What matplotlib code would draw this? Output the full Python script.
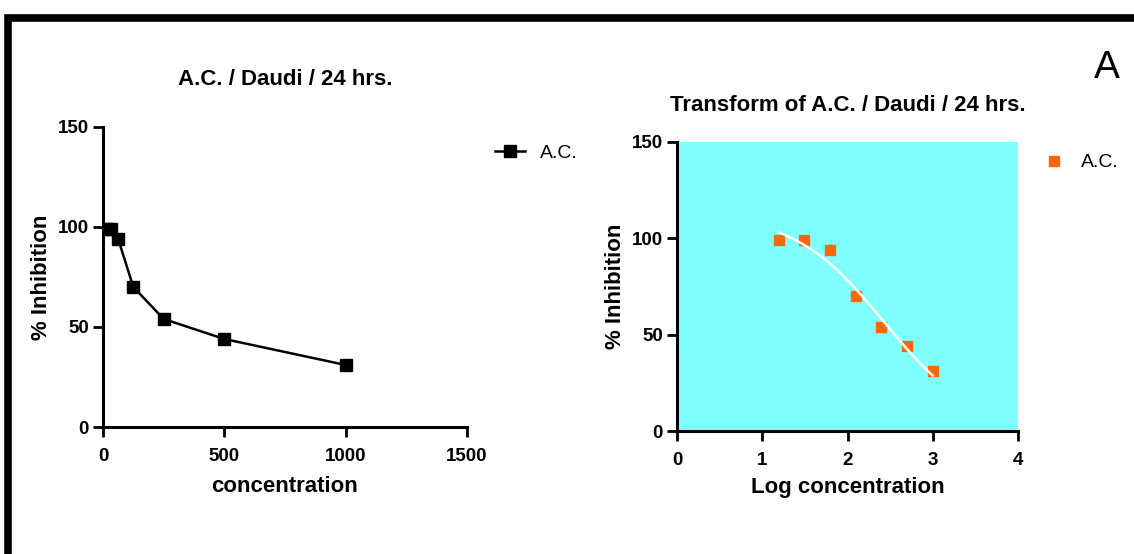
import numpy as np
import matplotlib.pyplot as plt
from matplotlib.patches import Rectangle

# data
conc = [15.625, 31.25, 62.5, 125, 250, 500, 1000]
inhibition = [99, 99, 94, 70, 54, 44, 31]
series_name = 'A.C.'
left_title = 'A.C. / Daudi / 24 hrs.'
right_title = 'Transform of A.C. / Daudi / 24 hrs.'
panel_letter = 'A'

plt.rcParams['font.family'] = ['Liberation Sans', 'DejaVu Sans']

logc = np.log10(conc)
y = np.array(inhibition, dtype=float)

# 4-parameter logistic fit (bottom fixed at 0) by grid search, for the white curve
best = None
for top in np.arange(100, 125, 0.5):
    for ec in np.arange(2.0, 3.0, 0.01):
        for h in np.arange(-2, -0.3, 0.02):
            f = top / (1 + 10 ** ((ec - logc) * h))
            err = np.sum((f - y) ** 2)
            if best is None or err < best[0]:
                best = (err, top, ec, h)
_, top, ec, h = best
xf = np.linspace(logc.min(), logc.max(), 200)
yf = top / (1 + 10 ** ((ec - xf) * h))

fig = plt.figure(figsize=(11.34, 5.54), dpi=100)

# outer frame (cut off at right and bottom like the reference)
fig.patches.append(Rectangle((8 / 1134, -0.1), 1.2, 1 - 18 / 554 + 0.1,
                             transform=fig.transFigure, fill=False,
                             lw=5.5, ec='black'))


def style(ax):
    for s in ['top', 'right']:
        ax.spines[s].set_visible(False)
    for s in ['left', 'bottom']:
        ax.spines[s].set_linewidth(2.2)
    ax.tick_params(direction='out', length=7, width=2, labelsize=13.5)
    ax.tick_params(axis='x', pad=8)
    ax.tick_params(axis='y', pad=3)
    for lab in ax.get_xticklabels() + ax.get_yticklabels():
        lab.set_fontweight('bold')


ax1 = fig.add_axes([103 / 1134, 1 - 427 / 554, 364 / 1134, 300 / 554])
ax1.plot(conc, inhibition, '-s', color='black', lw=1.8, ms=9, label=series_name)
ax1.set_xlim(0, 1500)
ax1.set_ylim(0, 150)
ax1.set_xticks([0, 500, 1000, 1500])
ax1.set_yticks([0, 50, 100, 150])
style(ax1)
ax1.set_xlabel('concentration', fontsize=16, fontweight='bold', labelpad=8)
ax1.set_ylabel('% Inhibition', fontsize=16, fontweight='bold', labelpad=4)
ax1.set_title(left_title, fontsize=16, fontweight='bold', pad=30)
ax1.legend(loc='upper left', bbox_to_anchor=(1.03, 1.0), frameon=False,
           handlelength=1.5, prop={'size': 14})

ax2 = fig.add_axes([677 / 1134, 1 - 431 / 554, 341 / 1134, 289 / 554])
ax2.set_facecolor('#80ffff')
ax2.plot(logc, inhibition, 's', color='#ff6600', ms=7.5, label=series_name)
ax2.plot(xf, yf, '-', color='white', lw=1.8)
ax2.set_xlim(0, 4)
ax2.set_ylim(0, 150)
ax2.set_xticks([0, 1, 2, 3, 4])
ax2.set_yticks([0, 50, 100, 150])
style(ax2)
ax2.set_xlabel('Log concentration', fontsize=16, fontweight='bold', labelpad=6)
ax2.set_ylabel('% Inhibition', fontsize=16, fontweight='bold', labelpad=4)
ax2.set_title(right_title, fontsize=16, fontweight='bold', pad=22)
handles, labels = ax2.get_legend_handles_labels()
ax2.legend(handles[:1], labels[:1], loc='upper left', bbox_to_anchor=(1.02, 1.02),
           frameon=False, handlelength=1.2, prop={'size': 14})

fig.text(1107 / 1134, 1 - 68 / 554, panel_letter, fontsize=28,
         ha='center', va='center')

fig.savefig('out.png', dpi=100)
